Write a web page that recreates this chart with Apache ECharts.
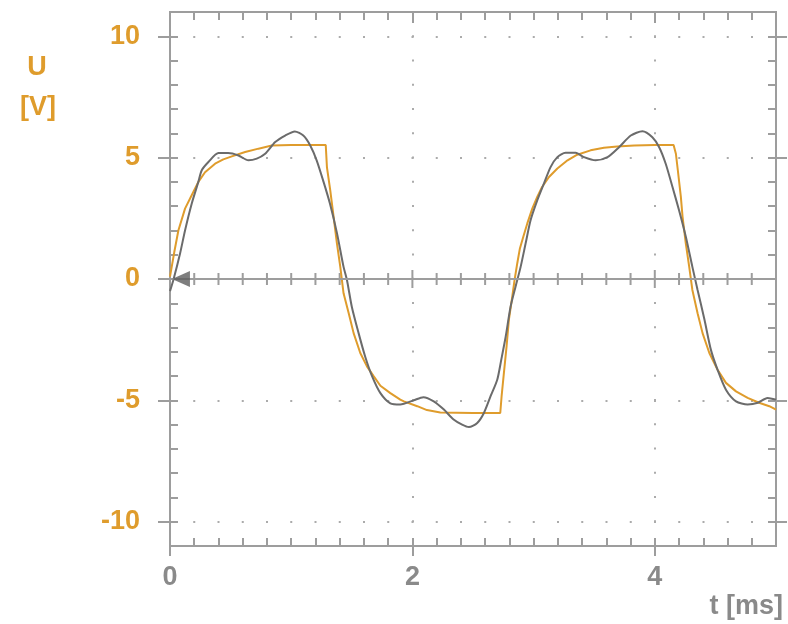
<!DOCTYPE html>
<html><head><meta charset="utf-8">
<script src="https://cdn.jsdelivr.net/npm/echarts@6/dist/echarts.min.js"></script>
<style>html,body{margin:0;padding:0;background:#fff}#c{width:788px;height:624px}</style>
</head><body><div id="c"></div><script>
// ---- data ----
const tOrange = [0,0.035,0.069,0.124,0.179,0.234,0.289,0.372,0.44,0.51,0.62,0.73,0.84,1.0,1.285,1.295,1.322,1.35,1.377,1.405,1.432,1.474,1.515,1.57,1.625,1.68,1.736,1.818,1.9,1.93,2.04,2.12,2.23,2.5,2.725,2.736,2.755,2.777,2.796,2.824,2.843,2.865,2.887,2.915,2.948,2.989,3.03,3.07,3.127,3.196,3.28,3.36,3.47,3.58,3.69,3.83,4.0,4.155,4.174,4.19,4.215,4.229,4.256,4.284,4.31,4.353,4.394,4.45,4.518,4.587,4.67,4.766,4.86,4.945,5.0];
const uOrange = [0.1,1.1,2.0,2.9,3.45,4.0,4.4,4.75,4.93,5.05,5.23,5.37,5.5,5.52,5.52,4.6,3.66,2.56,1.48,0.5,-0.59,-1.4,-2.23,-3.05,-3.6,-4.0,-4.4,-4.7,-4.97,-5.04,-5.24,-5.4,-5.5,-5.52,-5.52,-4.83,-3.87,-2.78,-1.68,-0.73,-0.04,0.64,1.26,1.74,2.29,2.9,3.38,3.79,4.2,4.55,4.89,5.12,5.3,5.41,5.46,5.5,5.52,5.52,5.16,4.48,3.38,2.56,1.46,0.5,-0.45,-1.41,-2.23,-3.05,-3.74,-4.28,-4.63,-4.9,-5.1,-5.24,-5.38];
const tGray = [0,0.03,0.083,0.124,0.179,0.234,0.262,0.317,0.4,0.48,0.565,0.647,0.716,0.785,0.868,0.95,1.03,1.1,1.157,1.21,1.267,1.32,1.378,1.432,1.46,1.5,1.556,1.61,1.667,1.736,1.818,1.9,2.01,2.09,2.176,2.26,2.34,2.41,2.466,2.535,2.59,2.645,2.7,2.733,2.77,2.81,2.851,2.893,2.934,2.975,3.03,3.085,3.14,3.196,3.264,3.347,3.416,3.512,3.61,3.705,3.802,3.898,3.98,4.036,4.09,4.146,4.2,4.256,4.31,4.353,4.41,4.463,4.518,4.587,4.67,4.766,4.85,4.93,5.0];
const uGray = [-0.5,0.0,1.05,2.0,3.1,4.0,4.48,4.82,5.19,5.19,5.09,4.89,4.96,5.16,5.64,5.91,6.08,5.91,5.5,4.89,4.0,3.1,1.88,0.5,-0.04,-1.14,-2.23,-3.19,-4.0,-4.7,-5.12,-5.17,-5.0,-4.87,-5.04,-5.38,-5.79,-6.0,-6.1,-5.93,-5.52,-4.83,-4.15,-3.33,-2.37,-1.14,-0.32,0.5,1.46,2.42,3.24,3.93,4.61,5.02,5.2,5.2,5.02,4.89,5.02,5.43,5.91,6.09,5.84,5.43,4.75,3.79,2.83,1.74,0.5,-0.45,-1.68,-2.92,-3.74,-4.56,-5.04,-5.17,-5.1,-4.9,-4.97];
const triggerMarker = [[0.09, 0]];
const xMajorTicks = [0, 2, 4];
const xInnerMajorTicks = [2, 4];
const zeroLineMinorTicks = [0.2,0.4,0.6,0.8,1.0,1.2,1.4,1.6,1.8,2.2,2.4,2.6,2.8,3.0,3.2,3.4,3.6,3.8,4.2,4.4,4.6,4.8];
const zeroLineMajorTicks = [2, 4];
const yMajorTicks = [-10, -5, 0, 5, 10];
const yRightMajorTicks = [-10, -5, 5, 10];
const yRange = [-11, 11];
const xRange = [0, 5];
const xTitle = 't [ms]';
const yTitleTop = 'U';
const yTitleBottom = '[V]';

// ---- styles ----
const ORANGE = '#DF9C2C';
const GRAYTXT = '#8A8A8A';
const AX = '#9D9D9D';
const FONT = 'Liberation Sans';
function dotted(){ return {show:true, lineStyle:{color:'#ABABAB', width:2, type:[2, 22.25], dashOffset:1}}; }
const GRID = {left:170, right:12, top:12, bottom:78};

function zip(a, b){ return a.map((v,i)=>[v, b[i]]); }

function xAx(o){
  const tick = {show:true, inside:!!o.inside, length:o.len, lineStyle:{color:AX, width:2}};
  if (o.custom) tick.customValues = o.custom;
  const ax = {
    type:'value', min:xRange[0], max:xRange[1], position:o.pos, gridIndex:0,
    axisLine:{show:o.line !== false, onZero:false, lineStyle:{color:AX, width:2}},
    axisTick:tick,
    axisLabel:o.label || {show:false},
    splitLine:o.split || {show:false},
    silent:true
  };
  if (o.interval) ax.interval = o.interval;
  return ax;
}
function yAx(o){
  const tick = {show:true, inside:!!o.inside, length:o.len, lineStyle:{color:AX, width:2}};
  if (o.custom) tick.customValues = o.custom;
  const ax = {
    type:'value', min:yRange[0], max:yRange[1], position:o.pos, gridIndex:0,
    axisLine:{show:true, onZero:false, lineStyle:{color:AX, width:2}},
    axisTick:tick,
    axisLabel:o.label || {show:false},
    splitLine:o.split || {show:false},
    silent:true
  };
  if (o.interval) ax.interval = o.interval;
  return ax;
}

// crossing tick on the U = 0 line, placed through the chart's own scales
function zeroTick(half){
  return function(params, api){
    const p = api.coord([api.value(0), 0]);
    return {type:'line', shape:{x1:p[0], y1:p[1] - half, x2:p[0], y2:p[1] + half},
            style:{stroke:AX, lineWidth:2}};
  };
}

const chart = echarts.init(document.getElementById('c'), null, {renderer:'canvas'});
chart.setOption({
  animation:false,
  backgroundColor:'#ffffff',
  grid:GRID,
  xAxis:[
    xAx({pos:'bottom', inside:false, len:10, custom:xMajorTicks,
      label:{show:true, customValues:xMajorTicks, color:GRAYTXT, fontFamily:FONT, fontWeight:'bold', fontSize:27, margin:18},
      split:dotted()}),
    xAx({pos:'bottom', inside:true, len:8, interval:0.2}),
    xAx({pos:'top', inside:true, len:8, interval:0.2}),
    xAx({pos:'top', inside:true, len:11, custom:xInnerMajorTicks})
  ],
  yAxis:[
    yAx({pos:'left', inside:false, len:12, custom:yMajorTicks,
      label:{show:true, customValues:yMajorTicks, color:ORANGE, fontFamily:FONT, fontWeight:'bold', fontSize:27, margin:30},
      split:dotted()}),
    yAx({pos:'left', inside:true, len:8, interval:1}),
    yAx({pos:'right', inside:true, len:8, interval:1}),
    yAx({pos:'right', inside:false, len:11, custom:yRightMajorTicks})
  ],
  graphic:[
    {type:'text', x:37, y:68, style:{text:yTitleTop, fill:ORANGE, fontFamily:FONT, fontWeight:'bold', fontSize:27, align:'center', verticalAlign:'middle'}},
    {type:'text', x:38, y:108, style:{text:yTitleBottom, fill:ORANGE, fontFamily:FONT, fontWeight:'bold', fontSize:27, align:'center', verticalAlign:'middle'}},
    {type:'text', x:783, y:607, style:{text:xTitle, fill:GRAYTXT, fontFamily:FONT, fontWeight:'bold', fontSize:27, align:'right', verticalAlign:'middle'}}
  ],
  series:[
    {type:'custom', name:'zeroMinor', xAxisIndex:0, yAxisIndex:0, silent:true, clip:false, z:2,
     data:zeroLineMinorTicks.map(t => [t, 0]), encode:{x:0, y:1}, renderItem:zeroTick(6),
     markLine:{silent:true, symbol:['none','none'], label:{show:false}, animation:false,
       lineStyle:{color:AX, width:2, type:'solid'}, data:[{yAxis:0}]}},
    {type:'custom', name:'zeroMajor', xAxisIndex:0, yAxisIndex:0, silent:true, clip:false, z:2,
     data:zeroLineMajorTicks.map(t => [t, 0]), encode:{x:0, y:1}, renderItem:zeroTick(9)},
    {type:'line', name:'orange', xAxisIndex:0, yAxisIndex:0, data:zip(tOrange, uOrange),
     showSymbol:false, symbol:'none', lineStyle:{color:ORANGE, width:2}, z:3, silent:true},
    {type:'line', name:'gray', xAxisIndex:0, yAxisIndex:0, data:zip(tGray, uGray),
     showSymbol:false, symbol:'none', smooth:0.25, lineStyle:{color:'#6B6B6B', width:2}, z:4, silent:true},
    {type:'scatter', xAxisIndex:0, yAxisIndex:0, data:triggerMarker, symbol:'triangle', symbolRotate:90,
     symbolSize:[16, 18], itemStyle:{color:'#5E5E5E'}, z:5, silent:true}
  ]
});
</script></body></html>
